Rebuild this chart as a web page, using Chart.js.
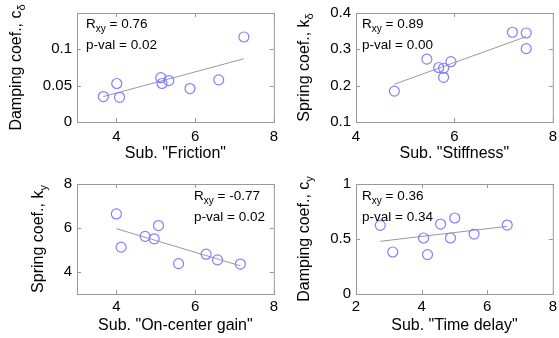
<!DOCTYPE html>
<html>
<head>
<meta charset="utf-8">
<script src="https://cdn.jsdelivr.net/npm/chart.js@4.4.1/dist/chart.umd.min.js"></script>
<style>
  body { margin: 0; background: #fff; }
  canvas { position: absolute; }
</style>
</head>
<body>
<canvas id="c1" width="280" height="169" style="left:0;top:0"></canvas>
<canvas id="c2" width="280" height="169" style="left:279px;top:0"></canvas>
<canvas id="c3" width="280" height="169" style="left:0;top:169px"></canvas>
<canvas id="c4" width="280" height="169" style="left:279px;top:169px"></canvas>
<script>
// panel 1: friction vs damping coef c_delta
const frictionX = [3.67, 4.01, 4.08, 5.13, 5.16, 5.33, 5.87, 6.60, 7.24];
const dampDelta = [0.035, 0.053, 0.034, 0.061, 0.053, 0.057, 0.046, 0.058, 0.117];
const frictionFitX = [3.67, 7.24];
const frictionFitY = [0.035, 0.087];
const frictionXTicks = [4, 6, 8];
const dampDeltaTicks = [0, 0.05, 0.1];

// panel 2: stiffness vs spring coef k_delta
const stiffX = [4.78, 5.44, 5.68, 5.78, 5.78, 5.93, 7.18, 7.46, 7.46];
const springDelta = [0.185, 0.273, 0.250, 0.248, 0.223, 0.266, 0.347, 0.345, 0.302];
const stiffFitX = [4.78, 7.46];
const stiffFitY = [0.204, 0.335];
const stiffXTicks = [4, 6, 8];
const springDeltaTicks = [0.1, 0.2, 0.3, 0.4];

// panel 3: on-center gain vs spring coef k_y
const gainX = [4.00, 4.12, 4.73, 4.96, 5.07, 5.58, 6.28, 6.57, 7.15];
const springY = [6.64, 5.13, 5.62, 5.51, 6.11, 4.38, 4.81, 4.55, 4.36];
const gainFitX = [4.00, 7.15];
const gainFitY = [5.97, 4.28];
const gainXTicks = [4, 6, 8];
const springYTicks = [4, 6, 8];

// panel 4: time delay vs damping coef c_y
const delayX = [2.74, 3.12, 4.06, 4.18, 4.58, 4.88, 5.01, 5.60, 6.61];
const dampY = [0.624, 0.382, 0.509, 0.358, 0.636, 0.509, 0.691, 0.545, 0.627];
const delayFitX = [2.74, 6.61];
const delayFitY = [0.479, 0.615];
const delayXTicks = [2, 4, 6, 8];
const dampYTicks = [0, 0.5, 1];

const FONT = 'Liberation Sans, Arial, sans-serif';

// box, inward ticks, y title with subscript, stats text
const framePlugin = {
  id: 'frame',
  afterDraw(chart, args, o) {
    const ctx = chart.ctx;
    const a = chart.chartArea;
    const xs = chart.scales.x, ys = chart.scales.y;
    ctx.save();
    ctx.strokeStyle = '#999';
    ctx.lineWidth = 1;
    ctx.strokeRect(a.left + 0.5, a.top + 0.5, a.right - a.left, a.bottom - a.top);
    ctx.beginPath();
    xs.ticks.forEach(t => {
      const px = Math.round(xs.getPixelForValue(t.value)) + 0.5;
      ctx.moveTo(px, a.bottom); ctx.lineTo(px, a.bottom - 4);
      ctx.moveTo(px, a.top); ctx.lineTo(px, a.top + 4);
    });
    ys.ticks.forEach(t => {
      const py = Math.round(ys.getPixelForValue(t.value)) + 0.5;
      ctx.moveTo(a.left, py); ctx.lineTo(a.left + 4, py);
      ctx.moveTo(a.right, py); ctx.lineTo(a.right - 4, py);
    });
    ctx.stroke();

    // y title
    ctx.fillStyle = '#000';
    ctx.textBaseline = 'alphabetic';
    ctx.textAlign = 'left';
    ctx.translate(o.titleX, (a.top + a.bottom) / 2);
    ctx.rotate(-Math.PI / 2);
    ctx.font = '16px ' + FONT;
    const w1 = ctx.measureText(o.yTitle).width;
    ctx.font = '11px ' + FONT;
    const w2 = ctx.measureText(o.ySub).width;
    const start = -(w1 + w2) / 2;
    ctx.font = '16px ' + FONT;
    ctx.fillText(o.yTitle, start, 0);
    ctx.font = '11px ' + FONT;
    ctx.fillText(o.ySub, start + w1, 4);
    ctx.setTransform(1, 0, 0, 1, 0, 0);

    // stats
    let x = a.left + o.statsX;
    const y1 = a.top + o.statsY[0], y2 = a.top + o.statsY[1];
    ctx.font = '13.5px ' + FONT;
    ctx.fillText('R', x, y1);
    x += ctx.measureText('R').width;
    ctx.font = '10px ' + FONT;
    ctx.fillText('xy', x, y1 + 3.5);
    x += ctx.measureText('xy').width;
    ctx.font = '13.5px ' + FONT;
    ctx.fillText(' = ' + o.r, x, y1);
    ctx.fillText('p-val = ' + o.p, a.left + o.statsX, y2);
    ctx.restore();
  }
};

function makePanel(id, xs, ys, fitX, fitY, xTicks, yTicks, xMin, xMax, yMin, yMax, xTitle, frame, top, tickPad, titlePad) {
  new Chart(document.getElementById(id), {
    type: 'scatter',
    data: {
      datasets: [{
        data: xs.map((v, i) => ({x: v, y: ys[i]})),
        pointStyle: 'circle',
        pointRadius: 5,
        pointHoverRadius: 5,
        pointBorderColor: '#8080ff',
        pointBackgroundColor: 'rgba(0,0,0,0)',
        pointBorderWidth: 1.2
      }, {
        data: fitX.map((v, i) => ({x: v, y: fitY[i]})),
        showLine: true,
        borderColor: '#999',
        borderWidth: 1,
        pointRadius: 0
      }]
    },
    options: {
      responsive: false,
      animation: false,
      layout: { padding: {top: top, right: 3, left: 0, bottom: 0} },
      plugins: { legend: {display: false}, tooltip: {enabled: false}, frame: frame },
      scales: {
        x: {
          type: 'linear', min: xMin, max: xMax,
          afterBuildTicks: s => { s.ticks = xTicks.map(v => ({value: v})); },
          afterFit: s => {
            s.height = 169 - top - (top === 13 ? 109 : 110);
            s.paddingLeft = 0; s.paddingRight = 0;
          },
          grid: {display: false, drawTicks: false},
          border: {display: false},
          ticks: {color: '#000', font: {family: FONT, size: 15}, padding: tickPad, maxRotation: 0, callback: v => String(v)},
          title: {display: true, text: xTitle, color: '#000', font: {family: FONT, size: 16}, padding: {top: 0, bottom: titlePad}}
        },
        y: {
          type: 'linear', min: yMin, max: yMax,
          afterBuildTicks: s => { s.ticks = yTicks.map(v => ({value: v})); },
          afterFit: s => {
            s.width = 77;
            s.paddingTop = 0; s.paddingBottom = 0;
          },
          grid: {display: false, drawTicks: false},
          border: {display: false},
          ticks: {color: '#000', font: {family: FONT, size: 15}, padding: 5, callback: v => String(v)}
        }
      }
    },
    plugins: [framePlugin]
  });
}

makePanel('c1', frictionX, dampDelta, frictionFitX, frictionFitY, frictionXTicks, dampDeltaTicks,
  3, 8, 0, 0.15, 'Sub. "Friction"',
  {titleX: 21, yTitle: 'Damping coef., c', ySub: 'δ', statsX: 9, statsY: [15, 36], r: '0.76', p: '0.02'}, 13, 5.5, 6);
makePanel('c2', stiffX, springDelta, stiffFitX, stiffFitY, stiffXTicks, springDeltaTicks,
  4, 8, 0.1, 0.4, 'Sub. "Stiffness"',
  {titleX: 29.5, yTitle: 'Spring coef., k', ySub: 'δ', statsX: 6, statsY: [15, 36], r: '0.89', p: '0.00'}, 13, 5.5, 6);
makePanel('c3', gainX, springY, gainFitX, gainFitY, gainXTicks, springYTicks,
  3, 8, 3, 8, 'Sub. "On-center gain"',
  {titleX: 42.5, yTitle: 'Spring coef., k', ySub: 'y', statsX: 117, statsY: [16, 37], r: '-0.77', p: '0.02'}, 15, 4, 3);
makePanel('c4', delayX, dampY, delayFitX, delayFitY, delayXTicks, dampYTicks,
  2, 8, 0, 1, 'Sub. "Time delay"',
  {titleX: 29.5, yTitle: 'Damping coef., c', ySub: 'y', statsX: 6, statsY: [16, 37], r: '0.36', p: '0.34'}, 15, 4, 3);
</script>
</body>
</html>
